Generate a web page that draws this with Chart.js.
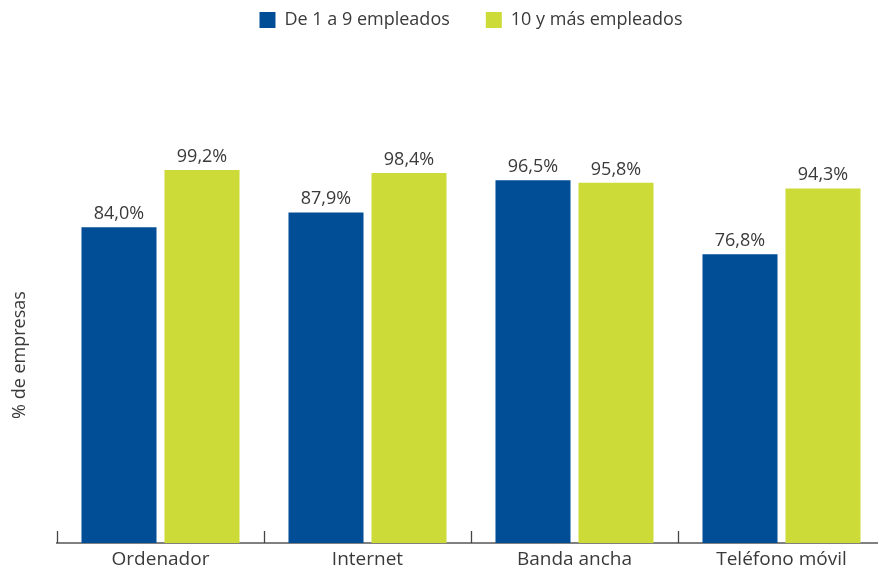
<!DOCTYPE html>
<html>
<head>
<meta charset="utf-8">
<script src="https://cdn.jsdelivr.net/npm/chart.js@4"></script>
<style>
  html, body { margin: 0; padding: 0; background: #fff; overflow: hidden; }
  #wrap { width: 886px; height: 570px; position: relative; }
</style>
</head>
<body>
<div id="wrap"><canvas id="chart"></canvas></div>
<script>
// datos del gráfico
const categorias = ['Ordenador', 'Internet', 'Banda ancha', 'Teléfono móvil'];
const pequenas = [84.0, 87.9, 96.5, 76.8];   // De 1 a 9 empleados
const grandes = [99.2, 98.4, 95.8, 94.3];    // 10 y más empleados
const nombresSeries = ['De 1 a 9 empleados', '10 y más empleados'];

const AZUL = '#024E96';
const VERDE = '#CCDB38';
const TEXTO = '#3a3a3a';
const FUENTE = '"Open Sans", sans-serif';

// etiquetas de valor encima de cada barra
const etiquetasValor = {
  id: 'etiquetasValor',
  afterDatasetsDraw(chart) {
    const ctx = chart.ctx;
    ctx.save();
    ctx.font = '18px ' + FUENTE;
    ctx.fillStyle = TEXTO;
    ctx.textAlign = 'center';
    ctx.textBaseline = 'alphabetic';
    chart.data.datasets.forEach((ds, i) => {
      chart.getDatasetMeta(i).data.forEach((bar, j) => {
        const txt = ds.data[j].toFixed(1).replace('.', ',') + '%';
        ctx.fillText(txt, bar.x, bar.y - 8);
      });
    });
    ctx.restore();
  }
};

// pequeñas marcas hacia arriba entre categorías
const marcasEje = {
  id: 'marcasEje',
  afterDraw(chart) {
    const x = chart.scales.x;
    const ctx = chart.ctx;
    const ancho = (x.getPixelForValue(1) - x.getPixelForValue(0));
    ctx.save();
    ctx.strokeStyle = '#444';
    ctx.lineWidth = 1.3;
    for (let i = 0; i <= categorias.length; i++) {
      const px = Math.round(x.getPixelForValue(0) - ancho / 2 + i * ancho) + 0.5;
      ctx.beginPath();
      ctx.moveTo(px, x.top - 12);
      ctx.lineTo(px, x.top);
      ctx.stroke();
    }
    ctx.restore();
  }
};

// espacio extra bajo la leyenda
const margenLeyenda = {
  id: 'margenLeyenda',
  beforeInit(chart) {
    const fitOriginal = chart.legend.fit;
    chart.legend.fit = function() {
      fitOriginal.bind(chart.legend)();
      this.height = 192;
    };
  }
};

new Chart(document.getElementById('chart'), {
  type: 'bar',
  data: {
    labels: categorias,
    datasets: [
      { label: nombresSeries[0], data: pequenas, backgroundColor: AZUL, borderWidth: 0 },
      { label: nombresSeries[1], data: grandes, backgroundColor: VERDE, borderWidth: 0 }
    ]
  },
  options: {
    responsive: true,
    maintainAspectRatio: false,
    animation: false,
    layout: { padding: { left: 0, right: 1, top: -25, bottom: 0 } },
    datasets: {
      bar: { categoryPercentage: 0.802, barPercentage: 0.904 }
    },
    scales: {
      x: {
        z: 1,
        grid: { display: false, drawTicks: false },
        border: { display: true, color: '#808080', width: 2 },
        ticks: { color: TEXTO, font: { family: FUENTE, size: 19 }, padding: 5 },
        afterFit(scale) { scale.height = 27; }
      },
      y: {
        min: 0,
        max: 100,
        grid: { display: false },
        border: { display: false },
        ticks: { display: false },
        title: {
          display: true,
          text: '% de empresas',
          color: TEXTO,
          font: { family: FUENTE, size: 18 },
          padding: { top: 9, bottom: 0 }
        },
        afterFit(scale) { scale.width = 57; }
      }
    },
    plugins: {
      legend: {
        position: 'top',
        fullSize: false,
        labels: {
          boxWidth: 16,
          boxHeight: 16,
          padding: 36,
          color: TEXTO,
          font: { family: FUENTE, size: 18 }
        }
      },
      tooltip: { enabled: false }
    }
  },
  plugins: [etiquetasValor, marcasEje, margenLeyenda]
});
</script>
</body>
</html>
